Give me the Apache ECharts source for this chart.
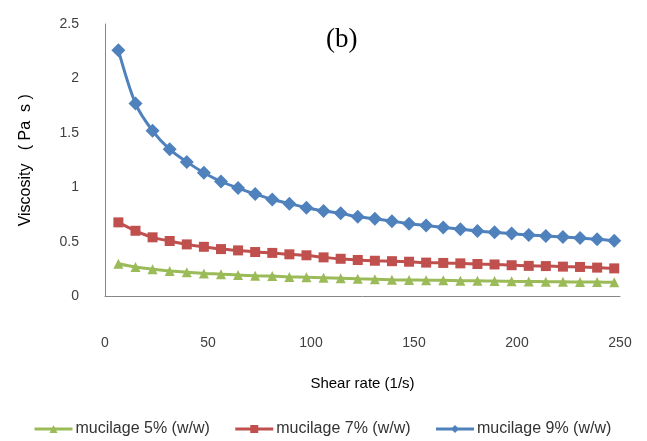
<!DOCTYPE html>
<html>
<head>
<meta charset="utf-8">
<script src="https://cdn.jsdelivr.net/npm/echarts@6/dist/echarts.min.js"></script>
<style>html,body{margin:0;padding:0;background:#fff}#c{width:647px;height:441px}</style>
</head>
<body>
<div id="c"></div>
<script>
var shearRate = [6.5, 14.8, 23.1, 31.4, 39.7, 48.0, 56.3, 64.6, 72.9, 81.2, 89.5, 97.8, 106.1, 114.4, 122.7, 131.0, 139.3, 147.6, 155.9, 164.2, 172.5, 180.8, 189.1, 197.4, 205.7, 214.0, 222.3, 230.6, 238.9, 247.2];
var muc5 = [0.30, 0.27, 0.25, 0.235, 0.223, 0.212, 0.205, 0.197, 0.191, 0.187, 0.18, 0.176, 0.172, 0.167, 0.162, 0.158, 0.154, 0.151, 0.15, 0.148, 0.145, 0.144, 0.142, 0.139, 0.138, 0.136, 0.135, 0.133, 0.132, 0.13];
var muc7 = [0.68, 0.603, 0.543, 0.509, 0.478, 0.456, 0.435, 0.423, 0.408, 0.40, 0.387, 0.378, 0.359, 0.346, 0.335, 0.328, 0.324, 0.319, 0.311, 0.308, 0.304, 0.298, 0.294, 0.287, 0.281, 0.279, 0.274, 0.271, 0.265, 0.258];
var muc9 = [2.26, 1.77, 1.52, 1.35, 1.235, 1.135, 1.055, 0.995, 0.94, 0.89, 0.852, 0.815, 0.785, 0.763, 0.731, 0.713, 0.69, 0.668, 0.652, 0.634, 0.617, 0.601, 0.589, 0.577, 0.564, 0.556, 0.546, 0.536, 0.526, 0.511];
var seriesNames = ['mucilage 5% (w/w)', 'mucilage 7% (w/w)', 'mucilage 9% (w/w)'];
var xTicks = [0, 50, 100, 150, 200, 250];
var yTicks = [0, 0.5, 1, 1.5, 2, 2.5];

function pairs(ys) { return shearRate.map(function (x, i) { return [x, ys[i]]; }); }

var font = 'Liberation Sans, Arial, sans-serif';
var chart = echarts.init(document.getElementById('c'), null, {renderer: 'canvas'});
chart.setOption({
  animation: false,
  backgroundColor: '#fff',
  grid: {left: 105, right: 27, top: 24, bottom: 144.5, containLabel: false},
  graphic: [{
    type: 'text', left: 326, top: 26,
    style: {text: '(b)', font: '27px "Liberation Serif", "Times New Roman", serif', fill: '#000'}
  }],
  xAxis: {
    type: 'value', min: xTicks[0], max: xTicks[xTicks.length - 1], interval: 50,
    name: 'Shear rate (1/s)', nameLocation: 'middle', nameGap: 80,
    nameTextStyle: {fontFamily: font, fontSize: 15, color: '#000'},
    axisLine: {show: true, lineStyle: {color: '#868686', width: 1}},
    axisTick: {show: false},
    splitLine: {show: false},
    axisLabel: {margin: 40, fontFamily: font, fontSize: 14, color: '#404040'}
  },
  yAxis: {
    type: 'value', min: yTicks[0], max: yTicks[yTicks.length - 1], interval: 0.5,
    name: 'Viscosity   ( Pa  s )', nameLocation: 'middle', nameGap: 71, nameRotate: 90,
    nameTextStyle: {fontFamily: font, fontSize: 16, color: '#000'},
    axisLine: {show: true, lineStyle: {color: '#868686', width: 1}},
    axisTick: {show: false},
    splitLine: {show: false},
    axisLabel: {margin: 26, fontFamily: font, fontSize: 14, color: '#404040',
      formatter: function (v) { return String(v); }}
  },
  legend: {
    bottom: 4, left: 33, padding: 0, itemGap: 24, itemWidth: 38, itemHeight: 10,
    textStyle: {fontFamily: font, fontSize: 16, color: '#333', padding: [0, 0, 0, -2]},
    lineStyle: {width: 3},
    data: seriesNames
  },
  series: [
    {name: seriesNames[0], type: 'line', data: pairs(muc5), smooth: 0.3,
      symbol: 'triangle', symbolSize: 10, color: '#9BBB59',
      lineStyle: {width: 3, color: '#9BBB59'}, itemStyle: {color: '#9BBB59'}},
    {name: seriesNames[1], type: 'line', data: pairs(muc7), smooth: 0.3,
      symbol: 'rect', symbolSize: 10, color: '#C0504D',
      lineStyle: {width: 3, color: '#C0504D'}, itemStyle: {color: '#C0504D'}},
    {name: seriesNames[2], type: 'line', data: pairs(muc9), smooth: 0.3,
      symbol: 'diamond', symbolSize: 14, color: '#4F81BD',
      lineStyle: {width: 3, color: '#4F81BD'}, itemStyle: {color: '#4F81BD'}}
  ]
});
</script>
</body>
</html>
